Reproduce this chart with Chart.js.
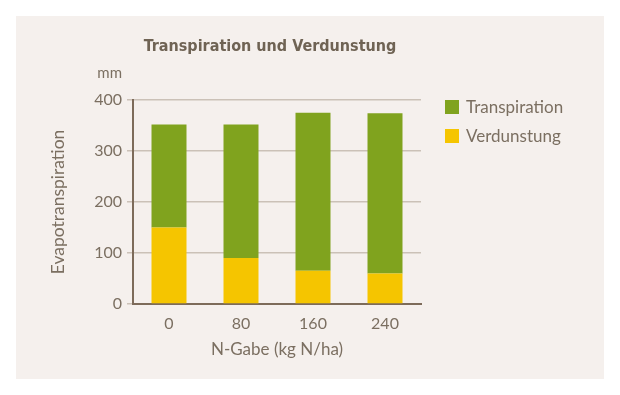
<!DOCTYPE html>
<html>
<head>
<meta charset="utf-8">
<script src="https://cdn.jsdelivr.net/npm/chart.js@4.4.1/dist/chart.umd.min.js"></script>
<style>
  html, body { margin: 0; padding: 0; background: #fff; }
  #wrap { width: 620px; height: 395px; }
</style>
</head>
<body>
<div id="wrap"><canvas id="chart" width="620" height="395"></canvas></div>
<script>
const categories = ['0', '80', '160', '240'];
const verdunstung = [150, 90, 65, 60];
const transpiration = [202, 262, 310, 314];
const yTicks = [0, 100, 200, 300, 400];

const txt = '#7b6f61';
const green = '#80a31e';
const yellow = '#f5c500';
const fontFam = 'Lato, "Open Sans", sans-serif';

// panel background, title, unit label and legend
const decor = {
  id: 'decor',
  beforeDraw(chart) {
    const ctx = chart.ctx;
    ctx.save();
    ctx.fillStyle = '#ffffff';
    ctx.fillRect(0, 0, chart.width, chart.height);
    ctx.fillStyle = '#f5f0ed';
    ctx.fillRect(16, 16, 588, 363);
    ctx.restore();
  },
  afterDraw(chart) {
    const ctx = chart.ctx;
    ctx.save();
    ctx.fillStyle = '#6f6354';
    ctx.font = 'bold 16px "DejaVu Sans Condensed", sans-serif';
    ctx.textAlign = 'center';
    ctx.textBaseline = 'middle';
    ctx.fillText('Transpiration und Verdunstung', 270, 47);

    ctx.fillStyle = txt;
    ctx.font = '15px ' + fontFam;
    ctx.textAlign = 'right';
    ctx.fillText('mm', 122, 73);

    // legend, top series first
    const items = chart.data.datasets.slice().reverse();
    ctx.font = '17px ' + fontFam;
    ctx.textAlign = 'left';
    items.forEach((ds, i) => {
      const y = 100 + i * 29;
      ctx.fillStyle = ds.backgroundColor;
      ctx.fillRect(445, y, 14, 14);
      ctx.fillStyle = txt;
      ctx.fillText(ds.label, 466, y + 8);
    });
    ctx.restore();
  }
};

new Chart(document.getElementById('chart'), {
  type: 'bar',
  data: {
    labels: categories,
    datasets: [
      { label: 'Verdunstung', data: verdunstung, backgroundColor: yellow },
      { label: 'Transpiration', data: transpiration, backgroundColor: green }
    ]
  },
  options: {
    responsive: false,
    animation: false,
    layout: { padding: { left: 44, right: 199, top: 100, bottom: 31 } },
    datasets: { bar: { barPercentage: 0.486, categoryPercentage: 1 } },
    plugins: {
      legend: { display: false },
      title: { display: false },
      tooltip: { enabled: false }
    },
    scales: {
      x: {
        stacked: true,
        afterFit: s => { s.height = 60; },
        grid: { display: false, drawTicks: false },
        border: { display: true, color: '#7d6b5a', width: 2 },
        ticks: { color: txt, font: { family: fontFam, size: 16 }, padding: 10 },
        title: { display: true, text: 'N-Gabe (kg N/ha)', color: txt, font: { family: fontFam, size: 17 } }
      },
      y: {
        stacked: true,
        min: 0,
        max: 400,
        afterFit: s => { s.width = 89; },
        afterBuildTicks: s => { s.ticks = yTicks.map(v => ({ value: v })); },
        grid: { color: '#cbc1b7', lineWidth: 1.5, tickLength: 6 },
        border: { display: true, color: '#7d6b5a', width: 2 },
        ticks: { color: txt, font: { family: fontFam, size: 16 }, padding: 5 },
        title: { display: true, text: 'Evapotranspiration', color: txt, font: { family: fontFam, size: 17.5 } }
      }
    }
  },
  plugins: [decor]
});
</script>
</body>
</html>
